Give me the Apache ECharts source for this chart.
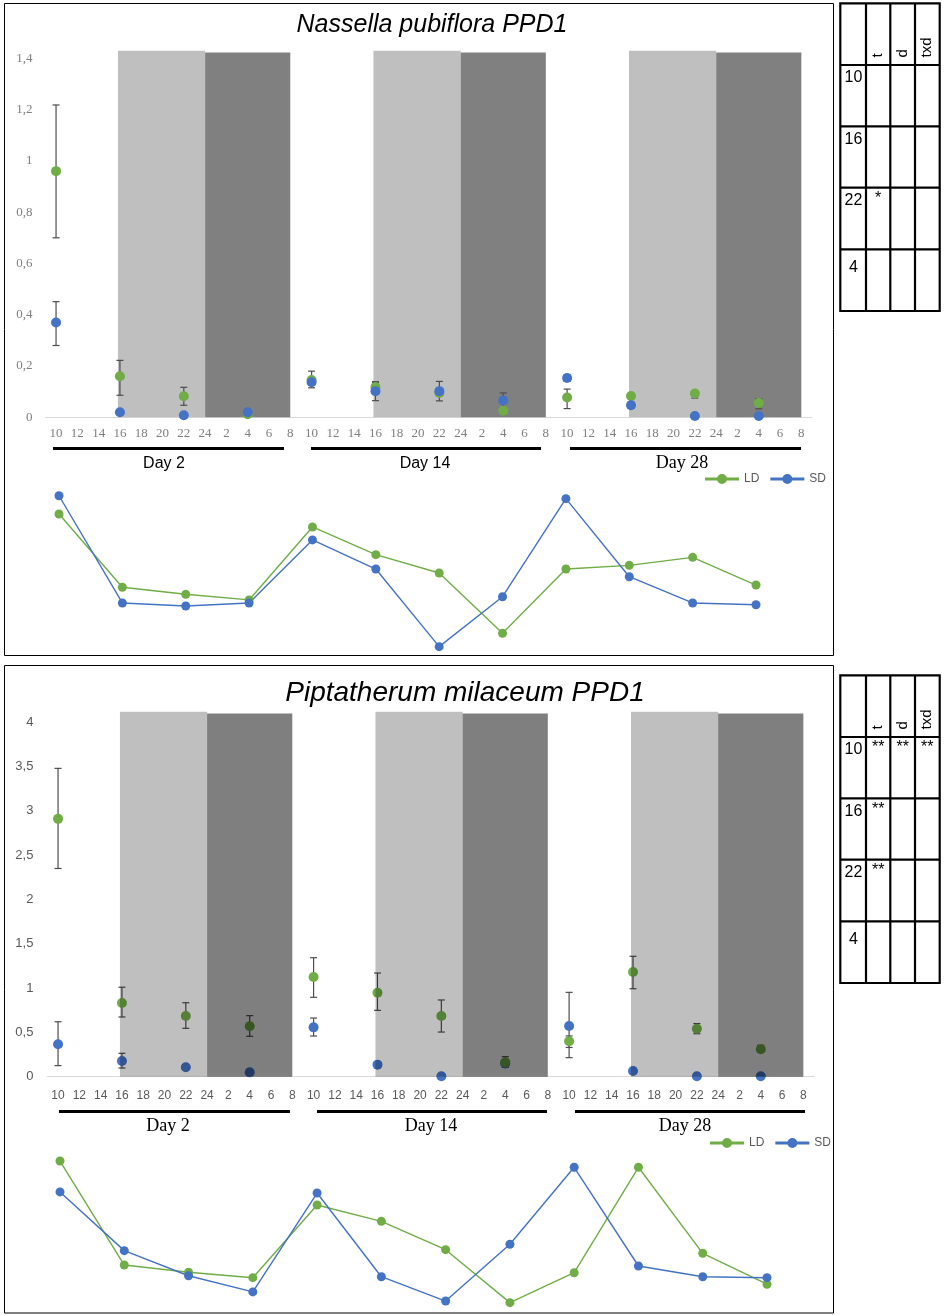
<!DOCTYPE html>
<html>
<head>
<meta charset="utf-8">
<script src="https://cdn.jsdelivr.net/npm/echarts@6/dist/echarts.min.js"></script>
<style>
html,body{margin:0;padding:0;background:#fff;}
#c{width:944px;height:1315px;}
</style>
</head>
<body>
<div id="c"></div>
<script>
// ---------- axis / category labels ----------
const HOURS = ['10','12','14','16','18','20','22','24','2','4','6','8'];
const DAY_KEYS = ['2','14','28'];
const DAY_LABELS = ['Day 2','Day 14','Day 28'];
const SAMPLE_HOURS = ['10','16','22','4'];
const LIGHT_BAND = ['16','24'];
const DARK_BAND = ['24','8'];

// ---------- Nassella pubiflora PPD1 ----------
const NP_LD_MEAN = [0.96, 0.16, 0.082, 0.012, 0.145, 0.118, 0.095, 0.026, 0.077, 0.083, 0.093, 0.056];
const NP_LD_LOW  = [0.70, 0.086, 0.047, null, 0.115, 0.105, 0.085, null, 0.034, 0.075, 0.075, 0.033];
const NP_LD_HIGH = [1.218, 0.222, 0.117, null, 0.18, 0.135, 0.105, null, 0.11, 0.09, 0.10, 0.072];
const NP_SD_MEAN = [0.37, 0.02, 0.008, 0.02, 0.137, 0.102, 0.102, 0.066, 0.153, 0.047, 0.005, 0.005];
const NP_SD_LOW  = [0.28, null, null, null, 0.125, 0.065, 0.064, 0.036, 0.14, 0.035, null, null];
const NP_SD_HIGH = [0.451, null, null, null, 0.15, 0.139, 0.14, 0.095, 0.166, 0.06, null, null];
const NP_BAND_TOP = [1.429, 1.423];
// relative profile (no axis shown)
const NP_LD_PROFILE = [85.0, 39.2, 34.8, 31.3, 76.9, 59.6, 48.1, 10.4, 50.6, 52.9, 57.9, 40.6];
const NP_SD_PROFILE = [96.4, 29.4, 27.5, 29.4, 68.8, 50.6, 2.1, 33.3, 94.6, 45.8, 29.4, 28.3];

// ---------- Piptatherum milaceum PPD1 ----------
const PM_LD_MEAN = [2.91, 0.832, 0.685, 0.569, 1.125, 0.948, 0.685, 0.162, 0.40, 1.182, 0.542, 0.309];
const PM_LD_LOW  = [2.35, 0.674, 0.546, 0.456, 0.896, 0.749, 0.504, 0.106, 0.33, 0.993, 0.485, 0.28];
const PM_LD_HIGH = [3.48, 1.01, 0.835, 0.689, 1.343, 1.17, 0.866, 0.226, 0.46, 1.359, 0.60, 0.354];
const PM_SD_MEAN = [0.366, 0.177, 0.106, 0.049, 0.557, 0.136, 0.005, 0.15, 0.572, 0.064, 0.005, 0.005];
const PM_SD_LOW  = [0.125, 0.098, null, null, 0.459, 0.12, null, null, 0.215, null, null, null];
const PM_SD_HIGH = [0.62, 0.264, null, null, 0.662, 0.15, null, null, 0.952, null, null, null];
const PM_BAND_TOP = [4.12, 4.10];
const PM_LD_PROFILE = [93.1, 28.1, 23.6, 20.2, 65.6, 55.4, 37.7, 4.6, 23.3, 89.2, 35.4, 16.1];
const PM_SD_PROFILE = [73.8, 37.1, 21.4, 11.3, 73.1, 20.8, 5.6, 41.1, 89.2, 27.5, 20.8, 20.2];

// ---------- significance tables ----------
const TABLE_COLS = ['t','d','txd'];
const TABLE_ROWS = ['10','16','22','4'];
const NP_SIG = [['','',''],['','',''],['*','',''],['','','']];
const PM_SIG = [['**','**','**'],['**','',''],['**','',''],['','','']];

// ---------- build ----------
const CATEGORIES = DAY_KEYS.flatMap(d => HOURS.map(h => d + '|' + h));
const SAMPLE_CATS = DAY_KEYS.flatMap(d => SAMPLE_HOURS.map(h => d + '|' + h));
const catIdx = c => CATEGORIES.indexOf(c);

const GREEN = '#70ad47', BLUE = '#4472c4';

function bandData(tops){
  const out = [];
  DAY_KEYS.forEach(d => {
    out.push([catIdx(d+'|'+LIGHT_BAND[0]), catIdx(d+'|'+LIGHT_BAND[1]), tops[0], 0]);
    out.push([catIdx(d+'|'+DARK_BAND[0]), catIdx(d+'|'+DARK_BAND[1]), tops[1], 1]);
  });
  return out;
}
function pts(mean){ return mean.map((v,i) => [catIdx(SAMPLE_CATS[i]), v]); }
function errs(low, high){
  const out = [];
  low.forEach((l,i) => { if (l != null) out.push([catIdx(SAMPLE_CATS[i]), l, high[i]]); });
  return out;
}
function bandSeries(xi, yi, tops, fills, z){
  return {
    type:'custom', xAxisIndex:xi, yAxisIndex:yi, z:z, silent:true, clip:false,
    encode:{x:[0,1], y:2},
    data: bandData(tops),
    renderItem: (p, api) => {
      const a = api.coord([api.value(0), 0]);
      const b = api.coord([api.value(1), api.value(2)]);
      const kind = api.value(3);
      const x0 = a[0] - (kind === 0 ? 2 : 0);
      return {type:'rect', shape:{x:x0, y:b[1], width:b[0]-x0, height:a[1]-b[1]},
              style:{fill: fills[kind]}};
    }
  };
}
function errSeries(xi, yi, low, high, z){
  return {
    type:'custom', xAxisIndex:xi, yAxisIndex:yi, z:z, silent:true,
    encode:{x:0, y:[1,2]},
    data: errs(low, high),
    renderItem: (p, api) => {
      const lo = api.coord([api.value(0), api.value(1)]);
      const hi = api.coord([api.value(0), api.value(2)]);
      const st = {stroke:'#4d4d4d', lineWidth:1.2};
      return {type:'group', children:[
        {type:'line', shape:{x1:lo[0], y1:lo[1], x2:hi[0], y2:hi[1]}, style:st},
        {type:'line', shape:{x1:lo[0]-3.5, y1:lo[1], x2:lo[0]+3.5, y2:lo[1]}, style:st},
        {type:'line', shape:{x1:hi[0]-3.5, y1:hi[1], x2:hi[0]+3.5, y2:hi[1]}, style:st}
      ]};
    }
  };
}
function scatter(xi, yi, name, mean, color, z){
  return {type:'scatter', name:name, xAxisIndex:xi, yAxisIndex:yi, z:z, symbolSize:10,
          itemStyle:{color:color, opacity:1}, data: pts(mean), silent:true};
}
function line(xi, yi, name, vals, color){
  return {type:'line', name:name, xAxisIndex:xi, yAxisIndex:yi, data: vals,
          symbol:'circle', symbolSize:9, showSymbol:true,
          lineStyle:{color:color, width:1.4}, itemStyle:{color:color}, silent:true, z:3};
}
const comma = v => String(+v.toFixed(2)).replace('.', ',');

// graphic helpers
const G = [];
function rect(x,y,w,h,lw){ G.push({type:'rect', shape:{x,y,width:w,height:h}, style:{fill:'none', stroke:'#000', lineWidth:lw}, z:10}); }
function txt(x,y,text,font,opts){ G.push(Object.assign({type:'text', x:x, y:y, z:10, style:{text:text, font:font, fill:'#000', align:'center', verticalAlign:'middle'}}, opts||{})); }
function hline(x1,x2,y,lw){ G.push({type:'line', shape:{x1,y1:y,x2,y2:y}, style:{stroke:'#000', lineWidth:lw}, z:10}); }

// frames
rect(4.5, 3.5, 829, 652, 1);
rect(4.5, 665.5, 829, 647.5, 1);
// titles
txt(432, 25, 'Nassella pubiflora PPD1', 'italic 25px "Liberation Sans"');
txt(465, 693, 'Piptatherum milaceum PPD1', 'italic 28px "Liberation Sans"');
// day underlines + labels
const NP_DAY_LINES = [[53,284],[311,541],[570,801]];
const PM_DAY_LINES = [[59,290],[317,547],[575,805]];
NP_DAY_LINES.forEach(l => hline(l[0], l[1], 448.5, 3));
PM_DAY_LINES.forEach(l => hline(l[0], l[1], 1111.5, 3));
const NP_DAY_FONTS = ['16px "Liberation Sans"','16px "Liberation Sans"','18px "Liberation Serif"'];
[164,425,682].forEach((x,i) => txt(x, 463.5, DAY_LABELS[i], NP_DAY_FONTS[i]));
[168,431,685].forEach((x,i) => txt(x, 1126.5, DAY_LABELS[i], '18px "Liberation Serif"'));

// tables
function table(top, sig){
  const xs = [840.3, 866, 890.3, 915, 939.7];
  const ys = [0, 61.7, 123, 184.4, 246, 307.7].map(v => v + top);
  G.push({type:'rect', shape:{x:xs[0], y:ys[0], width:xs[4]-xs[0], height:ys[5]-ys[0]}, style:{fill:'#fff', stroke:'#000', lineWidth:2.2}, z:9});
  for (let i=1;i<4;i++) G.push({type:'line', shape:{x1:xs[i], y1:ys[0], x2:xs[i], y2:ys[5]}, style:{stroke:'#000', lineWidth:2.2}, z:10});
  for (let j=1;j<5;j++) G.push({type:'line', shape:{x1:xs[0], y1:ys[j], x2:xs[4], y2:ys[j]}, style:{stroke:'#000', lineWidth:2.2}, z:10});
  TABLE_COLS.forEach((c,i) => {
    G.push({type:'text', x:(xs[i+1]+xs[i+2])/2, y:ys[1]-7.5, rotation:Math.PI/2, z:11,
            style:{text:c, font:'15px "Liberation Sans"', fill:'#000', align:'left', verticalAlign:'middle'}});
  });
  const rowDy = [13, 13, 13, 18];
  TABLE_ROWS.forEach((r,j) => {
    txt(853.5, ys[j+1] + rowDy[j], r, '16px "Liberation Sans"');
    sig[j].forEach((s,i) => {
      if (s) G.push({type:'text', x:(xs[i+1]+xs[i+2])/2, y:ys[j+1]+3, z:11,
        style:{text:s, font:'16px "Liberation Sans"', fill:'#000', align:'center', verticalAlign:'top'}});
    });
  });
}
table(3.3, NP_SIG);
table(675.3, PM_SIG);

const LEG_ICON = 'path://M0,3.6H34V6.4H0Z M12,5A5,5,0,1,1,22,5A5,5,0,1,1,12,5Z';
function legend(left, top){
  return {data:[{name:'LD', icon:LEG_ICON}, {name:'SD', icon:LEG_ICON}], left:left, top:top,
          itemWidth:34, itemHeight:10, itemGap:11, selectedMode:false,
          textStyle:{color:'#595959', fontFamily:'Liberation Sans', fontSize:12}};
}

const chart = echarts.init(document.getElementById('c'), null, {renderer:'canvas'});
chart.setOption({
  animation:false,
  backgroundColor:'#fff',
  grid:[
    {left:45.4, width:766.6, top:58.3, height:359},
    {left:59, width:697, top:490, height:160},
    {left:47.4, width:766.6, top:722.3, height:354.4},
    {left:60, width:707, top:1150, height:160}
  ],
  xAxis:[
    {type:'category', gridIndex:0, data:CATEGORIES, boundaryGap:true,
     axisLine:{lineStyle:{color:'#d9d9d9', width:1.2}}, axisTick:{show:false},
     axisLabel:{interval:0, margin:10, color:'#7f7f7f', fontFamily:'Liberation Serif', fontSize:13,
                formatter:v => v.split('|')[1]}},
    {type:'category', gridIndex:1, data:SAMPLE_CATS, boundaryGap:false, show:false},
    {type:'category', gridIndex:2, data:CATEGORIES, boundaryGap:true,
     axisLine:{lineStyle:{color:'#d9d9d9', width:1.2}}, axisTick:{show:false},
     axisLabel:{interval:0, margin:13, color:'#595959', fontFamily:'Liberation Sans', fontSize:12,
                formatter:v => v.split('|')[1]}},
    {type:'category', gridIndex:3, data:SAMPLE_CATS, boundaryGap:false, show:false}
  ],
  yAxis:[
    {type:'value', gridIndex:0, min:0, max:1.4, interval:0.2, axisLine:{show:false}, axisTick:{show:false},
     splitLine:{show:false}, axisLabel:{margin:13, color:'#7f7f7f', fontFamily:'Liberation Serif', fontSize:13, formatter:comma}},
    {type:'value', gridIndex:1, min:0, max:100, show:false, splitLine:{show:false}},
    {type:'value', gridIndex:2, min:0, max:4, interval:0.5, axisLine:{show:false}, axisTick:{show:false},
     splitLine:{show:false}, axisLabel:{margin:14, color:'#595959', fontFamily:'Liberation Sans', fontSize:13, formatter:comma}},
    {type:'value', gridIndex:3, min:0, max:100, show:false, splitLine:{show:false}}
  ],
  legend:[ legend(700, 468), legend(705, 1132) ],
  graphic: G,
  series:[
    // top scatter
    bandSeries(0, 0, NP_BAND_TOP, ['#bfbfbf','#808080'], 1),
    errSeries(0, 0, NP_LD_LOW, NP_LD_HIGH, 3),
    errSeries(0, 0, NP_SD_LOW, NP_SD_HIGH, 3),
    scatter(0, 0, 'LD points', NP_LD_MEAN, GREEN, 4),
    scatter(0, 0, 'SD points', NP_SD_MEAN, BLUE, 5),
    // top profile
    line(1, 1, 'LD', NP_LD_PROFILE, GREEN),
    line(1, 1, 'SD', NP_SD_PROFILE, BLUE),
    // bottom scatter
    errSeries(2, 2, PM_LD_LOW, PM_LD_HIGH, 3),
    errSeries(2, 2, PM_SD_LOW, PM_SD_HIGH, 3),
    scatter(2, 2, 'SD points 2', PM_SD_MEAN, BLUE, 4),
    scatter(2, 2, 'LD points 2', PM_LD_MEAN, GREEN, 5),
    bandSeries(2, 2, PM_BAND_TOP, ['rgba(0,0,0,0.25)','rgba(0,0,0,0.5)'], 8),
    // bottom profile
    line(3, 3, 'LD', PM_LD_PROFILE, GREEN),
    line(3, 3, 'SD', PM_SD_PROFILE, BLUE)
  ]
});
</script>
</body>
</html>
